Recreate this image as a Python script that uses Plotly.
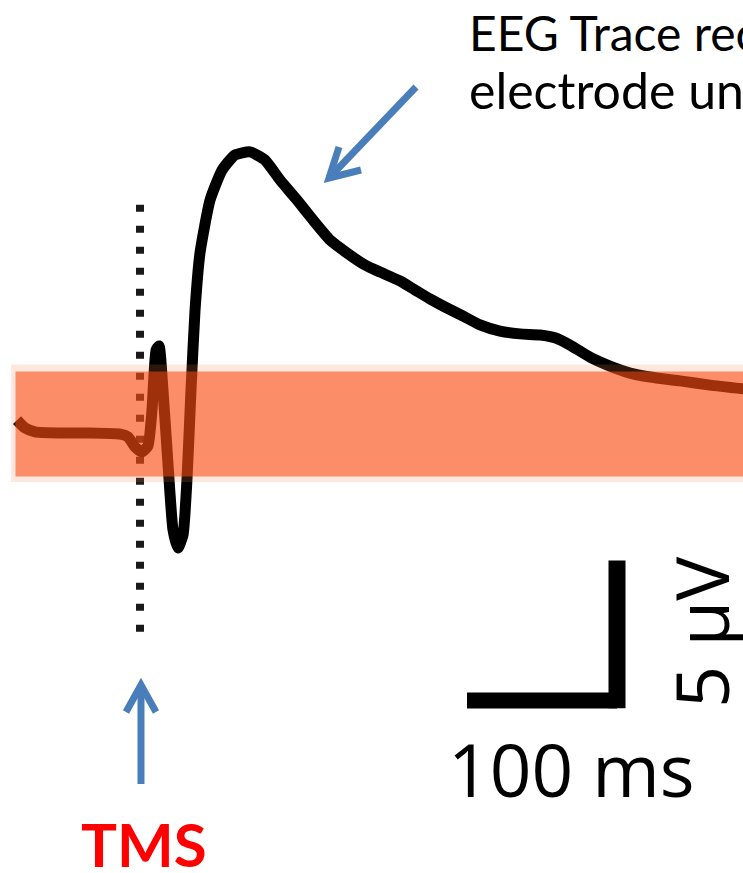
import plotly.graph_objects as go

# Evoked EEG response around the TMS pulse
time_ms = [-82.0, -76.7, -70.0, -53.3, -33.3, -13.3, -8.0, -3.3, 1.3, 5.3, 8.0, 10.7,
           12.7, 15.3, 18.7, 22.0, 25.3, 28.7, 31.3, 34.0, 36.7, 40.0, 46.7, 54.7,
           63.3, 73.3, 83.3, 93.3, 104.7, 115.3, 126.7, 138.0, 150.0, 160.0, 173.3,
           183.3, 193.3, 203.3, 215.3, 226.7, 240.0, 253.3, 266.7, 276.7, 286.7,
           300.0, 313.3, 326.7, 340.0, 360.0, 380.0, 403.3]
amp_uv = [0.46, 0.18, 0.04, 0.0, 0.0, -0.04, -0.14, -0.5, -0.68, -0.46, 0.82, 2.96,
          3.11, 1.54, -1.14, -3.46, -4.11, -3.64, -1.68, 1.54, 4.39, 6.43, 8.32, 9.39,
          9.93, 10.04, 9.75, 9.04, 8.32, 7.61, 6.89, 6.43, 6.0, 5.75, 5.43,
          5.11, 4.79, 4.5, 4.18, 3.86, 3.64, 3.54, 3.5, 3.4, 3.14,
          2.71, 2.39, 2.14, 2.0, 1.86, 1.71, 1.57]

# Shaded band around the baseline
band_uv = [-1.55, 2.2]
band_start_ms = -83.0

# TMS pulse time and the extent of its marker
tms_ms = 0.0
tms_marker_uv = [-7.1, 8.45]

# Scale bar sizes
scale_ms = 100
scale_uv = 5

W, H = 743, 873
X_RANGE = [-93.33, 402.0]
Y_RANGE = [-15.714, 15.464]
BLUE = "#4A7EBB"


def px(x, y):
    """Pixel position -> paper coordinates."""
    return x / W, 1 - y / H


fig = go.Figure()

# dotted marker at the pulse
fig.add_trace(go.Scatter(
    x=[tms_ms, tms_ms], y=tms_marker_uv, mode="lines",
    line=dict(color="#1a1a1a", width=8, dash="7px,14px"),
    hoverinfo="skip", showlegend=False))

# EEG trace
fig.add_trace(go.Scatter(
    x=time_ms, y=amp_uv, mode="lines",
    line=dict(color="black", width=11, shape="spline", smoothing=0.5),
    hoverinfo="skip", showlegend=False))

shapes = []
# band: soft halo + core, drawn over the trace
shapes.append(dict(type="rect", xref="x", yref="y", layer="above",
                   x0=band_start_ms - 3, x1=X_RANGE[1] + 5,
                   y0=band_uv[0] - 0.2, y1=band_uv[1] + 0.25,
                   fillcolor="rgba(247,120,80,0.18)", line=dict(width=0)))
shapes.append(dict(type="rect", xref="x", yref="y", layer="above",
                   x0=band_start_ms, x1=X_RANGE[1] + 5,
                   y0=band_uv[0], y1=band_uv[1],
                   fillcolor="rgba(247,72,10,0.56)", line=dict(width=0)))

# scale bar (L shape)
sx0 = 218.0
sy0 = -9.55
shapes.append(dict(type="line", xref="x", yref="y", layer="above",
                   x0=sx0, x1=sx0 + scale_ms, y0=sy0, y1=sy0,
                   line=dict(color="black", width=16)))
shapes.append(dict(type="line", xref="x", yref="y", layer="above",
                   x0=sx0 + scale_ms, x1=sx0 + scale_ms, y0=sy0 - 0.28, y1=sy0 + scale_uv,
                   line=dict(color="black", width=17)))


def arrow(tail, tip, barb1, barb2):
    tx, ty = px(*tail)
    hx, hy = px(*tip)
    shapes.append(dict(type="line", xref="paper", yref="paper", layer="above",
                       x0=tx, y0=ty, x1=hx, y1=hy,
                       line=dict(color=BLUE, width=7)))
    b1 = px(*barb1)
    b2 = px(*barb2)
    path = f"M {b1[0]},{b1[1]} L {hx},{hy} L {b2[0]},{b2[1]}"
    shapes.append(dict(type="path", xref="paper", yref="paper", layer="above",
                       path=path, line=dict(color=BLUE, width=7)))


arrow((416, 87), (329, 178), (339, 147), (361, 170))
arrow((141, 784), (141, 685), (126, 712), (156, 712))

annotations = []


def label(text, x, y, size, color="black", family="Lato", xanchor="left",
          yanchor="middle", angle=0, weight="normal"):
    ax, ay = px(x, y)
    annotations.append(dict(text=text, x=ax, y=ay, xref="paper", yref="paper",
                            showarrow=False, xanchor=xanchor, yanchor=yanchor,
                            textangle=angle,
                            font=dict(family=family, size=size, color=color,
                                      weight=weight)))


label("EEG Trace recorded", 467, 33, 48)
label("electrode under", 467, 90, 50)
label("100 ms", 571, 768, 73, family="Open Sans", xanchor="center")
label("5 µV", 700, 632, 74, family="Open Sans", xanchor="center", angle=-90)
label("TMS", 144, 844, 60, color="#FF0000", xanchor="center", weight="bold")

fig.update_layout(
    width=W, height=H,
    margin=dict(l=0, r=0, t=0, b=0),
    paper_bgcolor="white", plot_bgcolor="white",
    xaxis=dict(range=X_RANGE, visible=False, fixedrange=True),
    yaxis=dict(range=Y_RANGE, visible=False, fixedrange=True),
    shapes=shapes, annotations=annotations,
    showlegend=False,
)

fig.write_html("out.html", config={"displayModeBar": False})
